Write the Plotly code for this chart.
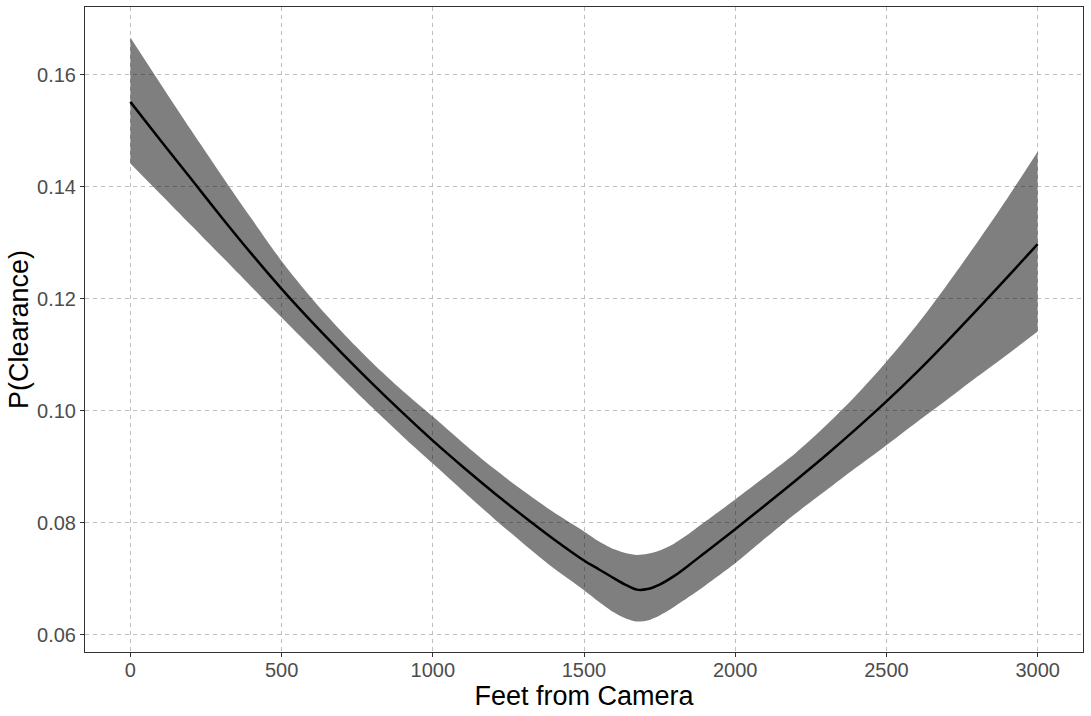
"""Fitted clearance probability vs. distance from camera, with confidence band."""

import plotly.graph_objects as go

# Distance from camera (feet)
feet = [0, 100, 200, 300, 400, 500, 600, 700, 800, 900, 1000, 1100, 1200,
        1300, 1400, 1500, 1550, 1600, 1640, 1675, 1710, 1750, 1800, 1850,
        1900, 2000, 2100, 2200, 2300, 2400, 2500, 2600, 2700, 2800, 2900, 3000]

# Fitted P(Clearance)
fit = [0.1552, 0.1483, 0.1415, 0.1347, 0.1281, 0.1218, 0.1159, 0.1103,
       0.1049, 0.0997, 0.0947, 0.0900, 0.0855, 0.0812, 0.0771, 0.0733,
       0.0717, 0.0701, 0.0689, 0.0681, 0.0682, 0.0690, 0.0706, 0.0726,
       0.0747, 0.0789, 0.0832, 0.0876, 0.0921, 0.0968, 0.1017, 0.1069,
       0.1124, 0.1181, 0.1239, 0.1298]

# Confidence band
upper = [0.1667, 0.1584, 0.1502, 0.1422, 0.1344, 0.1268, 0.1201, 0.1141,
         0.1086, 0.1036, 0.0990, 0.0943, 0.0898, 0.0857, 0.0819, 0.0785,
         0.0767, 0.0753, 0.0746, 0.0743, 0.0745, 0.0751, 0.0764, 0.0782,
         0.0802, 0.0842, 0.0883, 0.0925, 0.0974, 0.1028, 0.1088, 0.1153,
         0.1225, 0.1301, 0.1380, 0.1463]
lower = [0.1442, 0.1387, 0.1332, 0.1277, 0.1222, 0.1167, 0.1113, 0.1059,
         0.1006, 0.0955, 0.0906, 0.0857, 0.0809, 0.0763, 0.0719, 0.0680,
         0.0659, 0.0640, 0.0629, 0.0624, 0.0626, 0.0635, 0.0651, 0.0669,
         0.0688, 0.0728, 0.0773, 0.0817, 0.0858, 0.0899, 0.0939, 0.0980,
         0.1020, 0.1061, 0.1101, 0.1142]

x_ticks = [0, 500, 1000, 1500, 2000, 2500, 3000]
y_ticks = [0.06, 0.08, 0.10, 0.12, 0.14, 0.16]

FONT = "Liberation Sans, Arial, sans-serif"

fig = go.Figure()

# Lower edge of band (invisible), then upper edge filled down to it
fig.add_trace(
    go.Scatter(
        x=feet,
        y=lower,
        mode="lines",
        line={"width": 0, "shape": "spline", "smoothing": 0.8},
        hoverinfo="skip",
        showlegend=False,
    )
)
fig.add_trace(
    go.Scatter(
        x=feet,
        y=upper,
        mode="lines",
        line={"width": 0, "shape": "spline", "smoothing": 0.8},
        fill="tonexty",
        fillcolor="rgba(0,0,0,0.5)",
        hoverinfo="skip",
        showlegend=False,
    )
)

# Fitted line
fig.add_trace(
    go.Scatter(
        x=feet,
        y=fit,
        mode="lines",
        line={"color": "black", "width": 2.5, "shape": "spline", "smoothing": 0.8},
        hovertemplate="%{x} ft<br>P = %{y:.3f}<extra></extra>",
        showlegend=False,
    )
)

axis_common = {
    "showgrid": True,
    "gridcolor": "#BEBEBE",
    "griddash": "4px,4px",
    "gridwidth": 1,
    "zeroline": False,
    "showline": True,
    "linecolor": "#333333",
    "linewidth": 1,
    "mirror": True,
    "ticks": "outside",
    "ticklen": 4,
    "tickcolor": "#333333",
    "automargin": False,
    "tickfont": {"family": FONT, "size": 20, "color": "#4D4D4D"},
}

fig.update_layout(
    width=1091,
    height=716,
    paper_bgcolor="white",
    plot_bgcolor="white",
    margin={"l": 85, "r": 8, "t": 7, "b": 64},
    xaxis={
        **axis_common,
        "range": [-150, 3150],
        "tickvals": x_ticks,
        "ticktext": [str(v) for v in x_ticks],
        "ticklabelstandoff": -4,
        "title": {
            "text": "Feet from Camera",
            "font": {"family": FONT, "size": 27, "color": "black"},
            "standoff": 0,
        },
    },
    yaxis={
        **axis_common,
        "range": [0.05696, 0.17214],
        "tickvals": y_ticks,
        "ticktext": [f"{v:.2f}" for v in y_ticks],
        "title": {
            "text": "P(Clearance)",
            "font": {"family": FONT, "size": 27, "color": "black"},
            "standoff": 0,
        },
    },
)

# the page body has a default 8px margin; drop it so the figure sits at 0,0
fig.write_html(
    "out.html",
    config={"displayModeBar": False},
    post_script="document.body.style.margin='0';",
)
